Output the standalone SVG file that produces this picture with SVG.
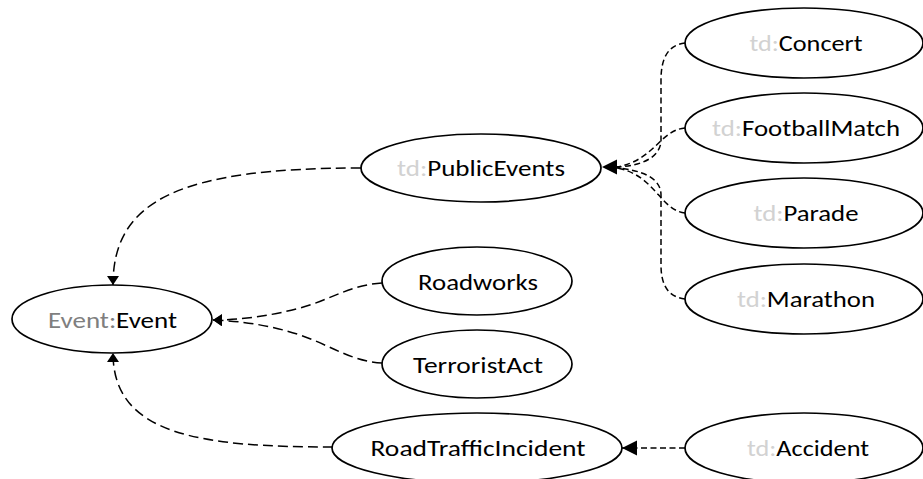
<svg xmlns="http://www.w3.org/2000/svg" width="923" height="479" viewBox="0 0 923 479">
  <style>
    .node ellipse { fill: #ffffff; stroke: #000000; stroke-width: 1.7; }
    .node text { font-family: Carlito, Lato, "Liberation Sans", sans-serif; font-size: 23px; fill: #000000; text-anchor: middle; }
    .ns { fill: #d2d2d2; }
    .ns-dark { fill: #7f7f7f; }
    .edge { fill: none; stroke: #000000; stroke-width: 1.5; }
    .long { stroke-dasharray: 10 5; marker-end: url(#arrowSmall); }
    .short { stroke-dasharray: 6 3.5; }
    .short.head { marker-end: url(#arrowBig); }
  </style>
  <defs>
    <marker id="arrowSmall" markerUnits="userSpaceOnUse" markerWidth="10" markerHeight="13" refX="9" refY="6" orient="auto">
      <path d="M0,0 L9,6 L0,12 Z" fill="#000000"/>
    </marker>
    <marker id="arrowBig" markerUnits="userSpaceOnUse" markerWidth="16" markerHeight="16" refX="15" refY="7.5" orient="auto">
      <path d="M0,0 L15,7.5 L0,15 Z" fill="#000000"/>
    </marker>
  </defs>
  <rect width="923" height="479" fill="#ffffff"/>

  <!-- connectors -->
  <g id="connectors">
    <path class="edge long" d="M361,168 C180,168 113,200 113,285"/>
    <path class="edge long" d="M333,447 C200,447 113,435 113,353"/>
    <path class="edge long" d="M382,283 C350,285 330,300 300,308 C270,316 240,320 213,320"/>
    <path class="edge long" d="M382,363 C350,361 330,345 300,335 C270,325 240,321 213,320"/>
    <path class="edge short" d="M685,43 C668,45 661,58 661,80 L661,140 C661,158 640,166 617,167"/>
    <path class="edge short" d="M685,128 C660,130 655,160 617,167"/>
    <path class="edge short" d="M685,213 C660,210 655,175 617,168"/>
    <path class="edge short" d="M685,299 C668,297 661,285 661,265 L661,195 C661,177 640,170 617,168"/>
    <path class="edge short head" d="M620,167 L602,167"/>
    <path class="edge short head" d="M685,448 L622,448"/>
  </g>

  <!-- nodes -->
  <g id="event" class="node">
    <ellipse cx="112" cy="319" rx="100" ry="34"/>
    <text x="112.5" y="328" textLength="129" lengthAdjust="spacingAndGlyphs"><tspan class="ns-dark">Event:</tspan>Event</text>
  </g>
  <g id="publicEvents" class="node">
    <ellipse cx="481" cy="168" rx="120" ry="34"/>
    <text x="481" y="176" textLength="168" lengthAdjust="spacingAndGlyphs"><tspan class="ns">td:</tspan>PublicEvents</text>
  </g>
  <g id="concert" class="node">
    <ellipse cx="804" cy="43" rx="119" ry="35"/>
    <text x="806" y="51" textLength="113" lengthAdjust="spacingAndGlyphs"><tspan class="ns">td:</tspan>Concert</text>
  </g>
  <g id="footballMatch" class="node">
    <ellipse cx="804" cy="128" rx="119" ry="35"/>
    <text x="806" y="136" textLength="188" lengthAdjust="spacingAndGlyphs"><tspan class="ns">td:</tspan>FootballMatch</text>
  </g>
  <g id="parade" class="node">
    <ellipse cx="804" cy="213" rx="119" ry="35"/>
    <text x="806" y="221" textLength="105" lengthAdjust="spacingAndGlyphs"><tspan class="ns">td:</tspan>Parade</text>
  </g>
  <g id="marathon" class="node">
    <ellipse cx="804" cy="299" rx="119" ry="35"/>
    <text x="806" y="307" textLength="138" lengthAdjust="spacingAndGlyphs"><tspan class="ns">td:</tspan>Marathon</text>
  </g>
  <g id="roadworks" class="node">
    <ellipse cx="477" cy="281" rx="95" ry="34"/>
    <text x="478" y="290" textLength="120" lengthAdjust="spacingAndGlyphs">Roadworks</text>
  </g>
  <g id="terroristAct" class="node">
    <ellipse cx="477" cy="364" rx="95" ry="34"/>
    <text x="478" y="373" textLength="130" lengthAdjust="spacingAndGlyphs">TerroristAct</text>
  </g>
  <g id="roadTrafficIncident" class="node">
    <ellipse cx="477" cy="448" rx="145" ry="35"/>
    <text x="478" y="456" textLength="215" lengthAdjust="spacingAndGlyphs">RoadTrafficIncident</text>
  </g>
  <g id="accident" class="node">
    <ellipse cx="804" cy="448" rx="119" ry="35"/>
    <text x="808" y="456" textLength="122" lengthAdjust="spacingAndGlyphs"><tspan class="ns">td:</tspan>Accident</text>
  </g>
</svg>
